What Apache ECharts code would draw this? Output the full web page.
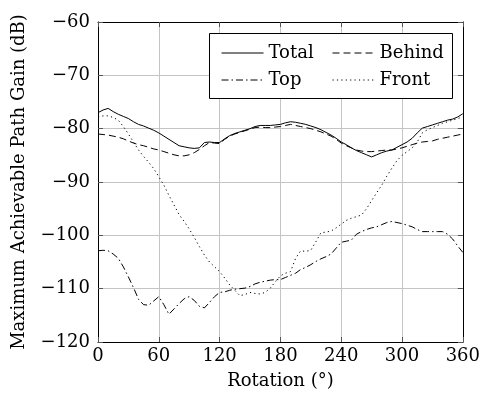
<!DOCTYPE html>
<html>
<head>
<meta charset="utf-8">
<script src="https://cdn.jsdelivr.net/npm/echarts@6/dist/echarts.min.js"></script>
<style>
html,body{margin:0;padding:0;background:#fff;}
#chart{width:483px;height:395px;}
</style>
</head>
<body>
<div id="chart"></div>
<script>
// Rotation angles (degrees), 5° steps
const angles = [0,5,10,15,20,25,30,35,40,45,50,55,60,65,70,75,80,85,90,95,100,105,110,115,120,125,130,135,140,145,150,155,160,165,170,175,180,185,190,195,200,205,210,215,220,225,230,235,240,245,250,255,260,265,270,275,280,285,290,295,300,305,310,315,320,325,330,335,340,345,350,355,360];

const total = [-77.0,-76.5,-76.2,-76.8,-77.3,-77.7,-78.1,-78.7,-79.2,-79.5,-79.9,-80.3,-80.8,-81.4,-82.0,-82.6,-83.2,-83.4,-83.6,-83.7,-83.6,-82.6,-82.5,-82.6,-82.6,-81.9,-81.3,-80.9,-80.6,-80.3,-80.0,-79.6,-79.4,-79.4,-79.4,-79.3,-79.2,-78.9,-78.7,-78.8,-79.0,-79.2,-79.5,-79.8,-80.2,-80.7,-81.2,-81.8,-82.5,-83.0,-83.6,-84.1,-84.5,-84.9,-85.3,-84.9,-84.5,-84.2,-84.0,-83.5,-83.0,-82.5,-81.8,-80.8,-79.9,-79.6,-79.3,-79.0,-78.7,-78.4,-78.2,-77.8,-77.2];

const behind = [-81.0,-81.1,-81.2,-81.4,-81.6,-81.9,-82.3,-82.7,-83.0,-83.2,-83.5,-83.8,-84.0,-84.3,-84.6,-84.9,-85.1,-85.1,-84.9,-84.5,-83.9,-83.2,-82.6,-82.7,-82.8,-82.0,-81.4,-81.0,-80.7,-80.4,-80.1,-79.8,-79.7,-79.8,-79.8,-79.7,-79.6,-79.4,-79.2,-79.4,-79.6,-79.8,-80.0,-80.3,-80.6,-81.0,-81.4,-82.0,-82.7,-83.2,-83.6,-84.0,-84.2,-84.3,-84.3,-84.2,-84.1,-84.0,-84.0,-83.8,-83.6,-83.3,-83.0,-82.7,-82.5,-82.4,-82.3,-82.0,-81.8,-81.6,-81.4,-81.2,-81.0];

const top_ = [-102.9,-102.8,-102.9,-103.5,-104.3,-105.9,-107.8,-109.8,-112.0,-113.0,-113.1,-112.3,-111.5,-113.0,-114.8,-113.8,-112.8,-111.9,-111.5,-112.2,-113.3,-113.6,-112.6,-111.5,-110.7,-110.6,-110.3,-110.1,-110.0,-109.9,-109.6,-109.1,-108.8,-108.6,-108.4,-108.3,-108.3,-107.9,-107.5,-107.1,-106.4,-106.0,-105.5,-104.9,-104.4,-104.0,-103.5,-102.4,-101.3,-101.1,-100.9,-99.8,-99.3,-98.9,-98.6,-98.4,-98.0,-97.6,-97.4,-97.6,-97.8,-98.1,-98.4,-98.9,-99.3,-99.3,-99.3,-99.3,-99.3,-99.8,-100.7,-102.0,-103.2];

const front = [-77.8,-77.6,-77.6,-77.9,-78.4,-79.6,-81.0,-82.5,-84.0,-85.2,-86.3,-87.5,-89.0,-90.6,-92.5,-94.3,-96.1,-97.4,-98.8,-100.4,-102.1,-103.7,-105.0,-105.9,-106.8,-108.0,-109.3,-110.3,-111.3,-111.1,-110.7,-110.9,-111.0,-110.7,-109.9,-108.7,-107.6,-107.1,-106.8,-104.3,-102.9,-103.0,-102.8,-101.2,-99.5,-99.4,-99.2,-98.6,-97.9,-97.2,-96.8,-96.5,-96.2,-95.0,-93.5,-92.0,-90.6,-88.9,-87.4,-86.0,-85.0,-84.3,-83.6,-82.5,-80.8,-80.2,-79.8,-79.4,-79.0,-78.7,-78.4,-78.1,-77.8];

const xTicks = [0,60,120,180,240,300,360];
const yTicks = [-120,-110,-100,-90,-80,-70,-60];

const FONT = 'DejaVu Serif';
const FS = 18;

function pairs(ys){ return angles.map((a,i)=>[a, ys[i]]); }
function minusFmt(v){ return v < 0 ? '\u2212' + Math.abs(v) : String(v); }

const chart = echarts.init(document.getElementById('chart'));

const gridLine = {show:true, lineStyle:{color:'#c4c4c4', width:1}};
const tickIn = {show:true, inside:true, length:5, lineStyle:{color:'#555', width:1}};

function mkX(pos, withLabels){
  return {
    type:'value', position:pos, min:xTicks[0], max:xTicks[xTicks.length-1], interval:60,
    axisLine:{show:true, onZero:false, lineStyle:{color:'#000', width:1}},
    axisTick: tickIn,
    splitLine: withLabels ? gridLine : {show:false},
    axisLabel: withLabels ? {show:true, fontFamily:FONT, fontSize:FS, color:'#000', margin:5} : {show:false},
    name: withLabels ? 'Rotation (\u00B0)' : '',
    nameLocation:'middle', nameGap:30,
    nameTextStyle:{fontFamily:FONT, fontSize:FS, color:'#000'}
  };
}
function mkY(pos, withLabels){
  return {
    type:'value', position:pos, min:yTicks[0], max:yTicks[yTicks.length-1], interval:10,
    axisLine:{show:true, onZero:false, lineStyle:{color:'#000', width:1}},
    axisTick: tickIn,
    splitLine: withLabels ? gridLine : {show:false},
    axisLabel: withLabels ? {show:true, fontFamily:FONT, fontSize:FS, color:'#000', margin:8, formatter:minusFmt} : {show:false},
    name: withLabels ? 'Maximum Achievable Path Gain (dB)' : '',
    nameLocation:'middle', nameGap:70,
    nameTextStyle:{fontFamily:FONT, fontSize:FS, color:'#000'}
  };
}

const lineCommon = {type:'line', showSymbol:false, symbol:'none', smooth:false, animation:false};
const legendCommon = {orient:'vertical', top:39, itemWidth:42, itemHeight:12, itemGap:9, z:60,
  textStyle:{fontFamily:FONT, fontSize:FS, color:'#000'}, itemStyle:{opacity:0}, lineStyle:{width:1},
  selectedMode:false};

chart.setOption({
  animation:false,
  backgroundColor:'#fff',
  grid:{left:98, right:17, top:22, bottom:53, containLabel:false},
  xAxis:[mkX('bottom', true), mkX('top', false)],
  yAxis:[mkY('left', true), mkY('right', false)],
  graphic:[{type:'rect', left:209, top:33, shape:{width:243, height:65}, style:{fill:'#fff', stroke:'#000', lineWidth:1}, z:50}],
  legend:[
    Object.assign({}, legendCommon, {data:['Total','Top'], left:216}),
    Object.assign({}, legendCommon, {data:['Behind','Front'], left:327})
  ],
  series:[
    Object.assign({}, lineCommon, {name:'Total', data:pairs(total), color:'#000', lineStyle:{color:'#000', width:1, type:'solid'}}),
    Object.assign({}, lineCommon, {name:'Behind', data:pairs(behind), color:'#000', lineStyle:{color:'#000', width:1, type:[7,4]}}),
    Object.assign({}, lineCommon, {name:'Top', data:pairs(top_), color:'#000', lineStyle:{color:'#000', width:1, type:[7,3,1.5,3]}}),
    Object.assign({}, lineCommon, {name:'Front', data:pairs(front), color:'#000', lineStyle:{color:'#000', width:1, type:[1.2,3.2]}})
  ]
});
</script>
</body>
</html>
